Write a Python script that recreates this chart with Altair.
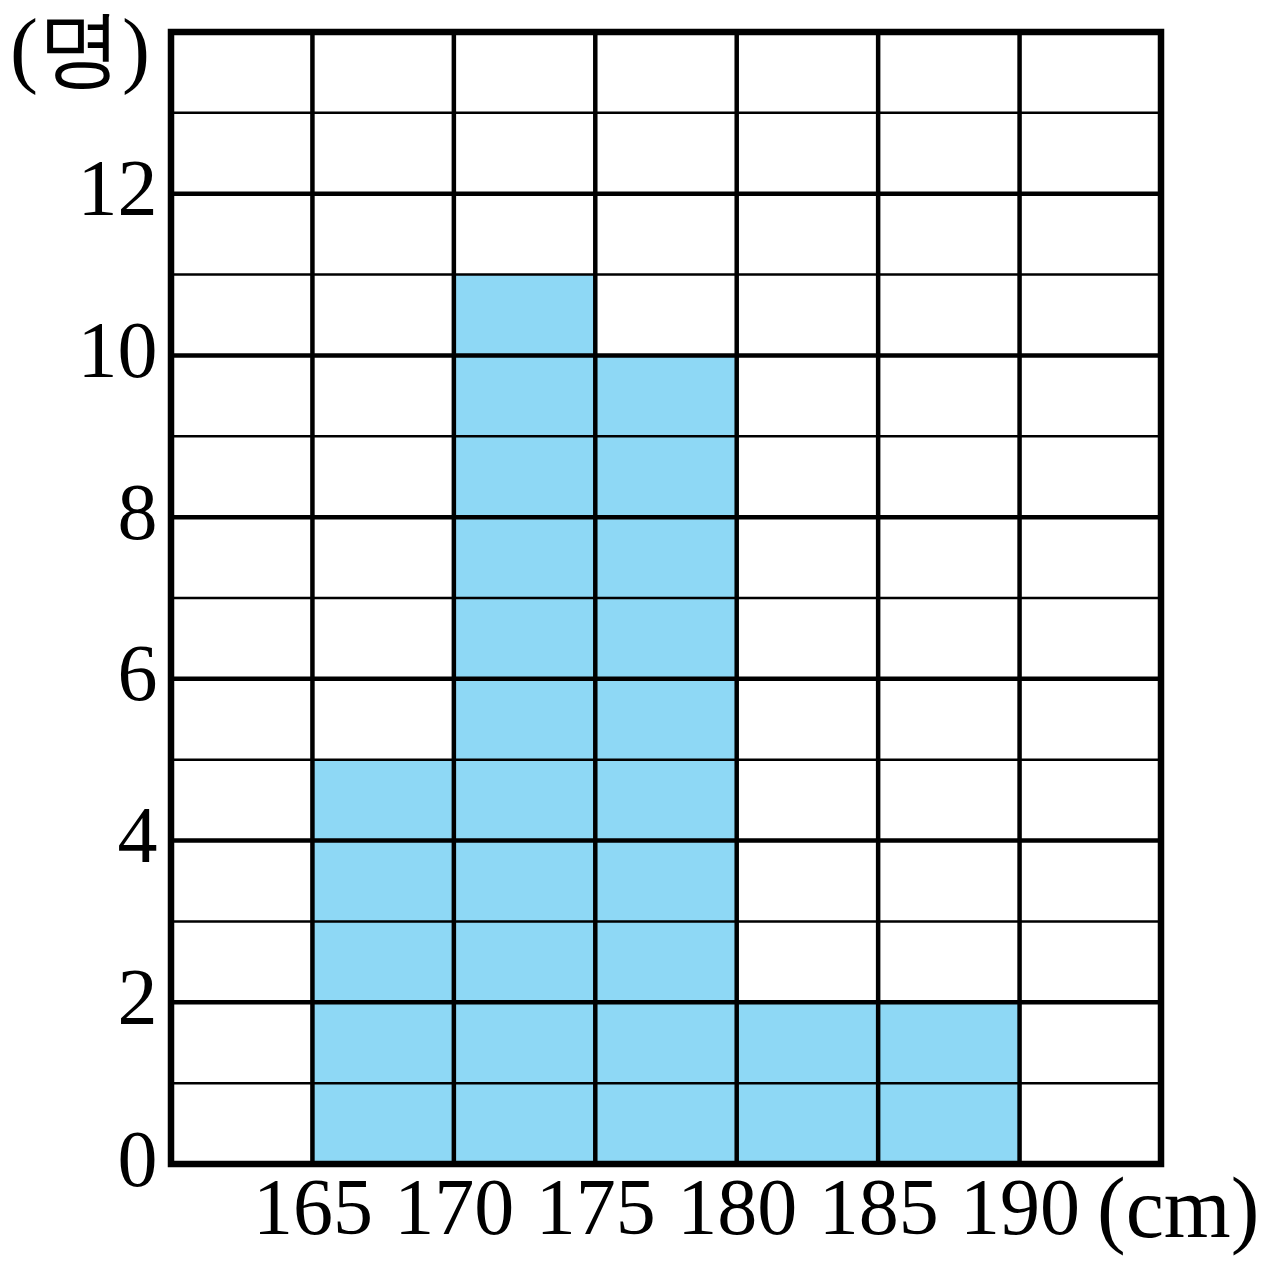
import altair as alt
import pandas as pd

# data
bin_lower = [165, 170, 175, 180, 185]
bin_upper = [170, 175, 180, 185, 190]
counts = [5, 11, 10, 2, 2]
x_ticks = [165, 170, 175, 180, 185, 190]
y_ticks = [0, 2, 4, 6, 8, 10, 12]
x_min, x_max = 160, 195
y_min, y_max = 0, 14

FONT = "Liberation Serif"
FS = 80
FILL = "#8ED8F5"

bars = pd.DataFrame({"lo": bin_lower, "hi": bin_upper, "n": counts})
vlines = pd.DataFrame({"x": list(range(x_min, x_max + 1, 5))})
h_thin = pd.DataFrame({"y": [v for v in range(y_min, y_max + 1) if v % 2 == 1]})
h_thick = pd.DataFrame({"y": [v for v in range(y_min, y_max + 1) if v % 2 == 0]})
frame = pd.DataFrame({"x0": [x_min], "x1": [x_max], "y0": [y_min], "y1": [y_max]})

xs = alt.Scale(domain=[x_min, x_max], nice=False, zero=False)
ys = alt.Scale(domain=[y_min, y_max], nice=False)

x_axis = alt.Axis(values=x_ticks, domain=False, ticks=False, grid=False, title=None,
                  format="d",
                  labelFont=FONT, labelFontSize=FS, labelPadding=6, labelColor="black",
                  labelFlush=False, labelOverlap=False)
y_axis = alt.Axis(values=y_ticks, domain=False, ticks=False, grid=False, title=None,
                  format="d",
                  labelFont=FONT, labelFontSize=FS, labelPadding=14, labelColor="black",
                  labelBaseline="middle", labelOffset=-3, labelFlush=False, labelOverlap=False)

bar_layer = alt.Chart(bars).mark_rect(color=FILL).encode(
    x=alt.X("lo:Q", scale=xs, axis=x_axis),
    x2="hi:Q",
    y=alt.Y("n:Q", scale=ys, axis=y_axis),
    y2=alt.datum(0),
)

thin_layer = alt.Chart(h_thin).mark_rule(color="black", strokeWidth=2.5).encode(
    y=alt.Y("y:Q", scale=ys), x=alt.datum(x_min), x2=alt.datum(x_max)
)
thick_layer = alt.Chart(h_thick).mark_rule(color="black", strokeWidth=4.5).encode(
    y=alt.Y("y:Q", scale=ys), x=alt.datum(x_min), x2=alt.datum(x_max)
)
v_layer = alt.Chart(vlines).mark_rule(color="black", strokeWidth=4.5).encode(
    x=alt.X("x:Q", scale=xs), y=alt.datum(y_min), y2=alt.datum(y_max)
)
frame_layer = alt.Chart(frame).mark_rect(fill=None, stroke="black", strokeWidth=6.5).encode(
    x=alt.X("x0:Q", scale=xs), x2="x1:Q", y=alt.Y("y0:Q", scale=ys), y2="y1:Q"
)

cm_label = alt.Chart(pd.DataFrame({"t": ["(cm)"]})).mark_text(
    font=FONT, fontSize=86, align="left", baseline="alphabetic", color="black"
).encode(text="t:N", x=alt.value(926), y=alt.value(1205))

unit_label = alt.Chart(pd.DataFrame({"t": ["(명)"]})).mark_text(
    font=FONT, fontSize=84, align="left", baseline="alphabetic", color="black"
).encode(text="t:N", x=alt.value(-161), y=alt.value(45))

chart = alt.layer(
    bar_layer, thin_layer, thick_layer, v_layer, frame_layer, cm_label, unit_label
).properties(
    width=990, height=1132,
    autosize=alt.AutoSizeParams(type="none"),
    padding={"left": 163, "top": 24, "right": 101, "bottom": 100},
).configure_view(stroke=None).configure(background="white")

chart.save("out.html", embed_options={"renderer": "svg", "actions": False})
